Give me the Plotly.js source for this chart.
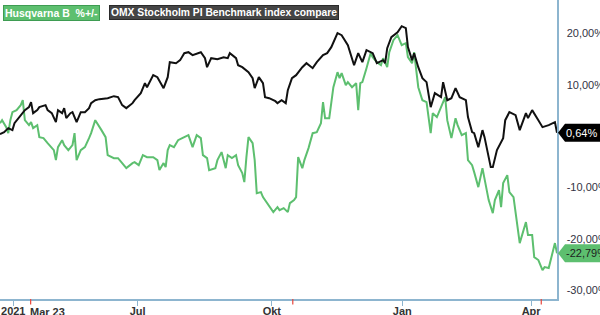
<!DOCTYPE html>
<html>
<head>
<meta charset="utf-8">
<script src="https://cdn.plot.ly/plotly-3.0.1.min.js"></script>
<style>html,body{margin:0;padding:0;background:#fff}#chart{width:600px;height:315px}</style>
</head>
<body>
<div id="chart"></div>
<script>
// Trading-day index (day 0 = first session shown) and % change
const omxDays = [0,2,4,6,7,9,11,12,14,15,16,18,19,22,23,25,27,28,30,31,32,34,35,37,39,41,43,44,46,48,52,55,57,59,61,64,65,68,70,71,74,76,79,81,82,85,87,89,91,93,97,99,100,102,105,108,110,111,114,115,117,120,122,123,125,127,128,130,133,134,136,138,139,141,143,146,148,151,153,156,158,160,163,165,168,170,171,173,175,177,180,182,185,186,187,189,192,194,196,197,199,200,202,204,206,208,210,213,214,216,218,220,222,225,226,228,229,231,233,234,237,238,240,243,244,246,249,251,254,255,257,260,262,265,268,269];
const omxPct = [0.39,0.78,1.56,1.17,2.53,3.50,4.47,5.06,5.64,6.61,4.47,5.06,5.64,6.03,5.06,4.47,2.72,5.06,4.47,5.45,3.50,4.47,4.67,2.72,4.67,4.67,5.45,6.42,7.00,7.20,7.39,7.78,7.59,6.03,5.45,6.42,7.00,8.37,10.31,9.53,11.87,11.48,9.34,11.48,14.40,14.20,14.79,16.15,16.34,15.76,16.34,15.18,13.42,15.18,14.98,15.37,15.18,16.15,15.18,13.81,13.42,12.45,11.28,9.34,11.48,10.31,7.59,7.39,6.81,6.42,7.00,6.42,8.95,11.28,11.87,13.42,14.20,13.23,14.40,15.76,16.15,17.32,20.04,19.65,17.70,15.37,13.81,16.15,14.40,16.73,16.15,14.20,14.79,14.20,17.12,19.26,20.23,21.40,21.01,17.32,14.79,16.15,13.42,11.28,10.51,5.64,8.37,7.59,10.51,7.00,7.39,9.34,7.59,7.00,3.70,0.78,0.58,-2.14,1.17,-0.19,-6.03,-6.03,-2.72,-0.39,3.11,4.67,4.09,1.17,4.47,3.50,5.06,3.11,1.75,2.14,2.72,0.64];

const husqDays = [0,1,3,4,5,6,8,10,11,12,14,15,16,18,19,21,23,26,27,28,30,31,33,35,36,37,39,41,43,44,46,47,49,51,52,55,57,59,61,64,65,67,69,71,74,76,77,79,80,81,82,84,86,88,91,93,95,97,98,100,101,104,105,107,109,110,112,114,115,117,118,119,120,122,123,124,126,127,129,130,132,134,135,137,139,140,142,143,144,146,147,149,151,153,155,156,157,159,161,163,164,165,167,168,170,172,173,174,175,177,179,180,182,184,185,187,188,190,192,194,196,197,199,200,202,204,206,208,209,211,213,215,216,218,220,221,223,225,226,228,229,231,233,234,236,238,239,241,242,243,245,246,248,251,254,255,257,258,260,262,263,265,267,268,269];
const husqPct = [2.53,3.11,1.75,0.58,3.11,4.67,5.06,6.03,7.00,3.11,2.14,2.72,1.56,2.14,-0.19,-0.39,-1.36,-2.72,-4.67,-2.14,-0.78,-1.75,-2.72,-1.75,0.58,-4.67,-2.72,-2.14,-0.39,0.58,3.11,2.53,1.17,-0.19,-3.70,-4.28,-4.28,-5.25,-6.23,-5.25,-5.06,-5.64,-3.70,-4.09,-4.09,-4.67,-6.61,-5.25,-6.03,-2.72,-1.75,-2.14,-0.78,-0.39,0.19,-2.14,0.19,-0.39,-3.70,-4.28,-6.61,-6.23,-4.67,-3.11,-6.23,-3.70,-4.28,-3.70,-5.64,-7.20,-8.95,-4.09,-0.19,-1.36,-4.67,-11.09,-10.89,-11.87,-13.04,-13.42,-14.79,-13.81,-14.40,-14.01,-14.79,-13.04,-12.45,-11.87,-4.09,-6.23,-4.67,-2.33,0.58,0.78,2.53,6.61,3.50,3.50,9.53,12.45,11.28,12.26,9.92,10.51,9.53,10.31,5.06,10.31,10.51,13.23,16.15,15.37,14.40,13.81,15.18,13.42,16.34,18.68,19.65,17.70,18.09,15.37,14.20,16.34,9.53,7.00,6.61,0.58,4.47,3.70,5.64,7.59,3.11,-0.39,3.50,2.14,0.19,0.58,-4.67,-5.64,-7.00,-9.92,-6.23,-8.56,-12.45,-14.98,-12.45,-10.51,-13.81,-9.14,-7.59,-10.89,-11.87,-20.82,-16.73,-19.26,-19.26,-23.54,-24.12,-26.07,-25.49,-25.68,-22.76,-20.82,-22.79];

const tickDays = [6.4, 66.5, 131.3, 194.3, 256.5];
const tickLabels = ['2021', 'Jul', 'Okt', 'Jan', 'Apr'];
const eventDays = [14.8, 141.4, 261.4];
const eventLabel = 'Mar 23';
const yTicks = [20, 10, 0, -10, -20, -30];
const seriesNames = ['Husqvarna B\u00a0\u00a0%+/-', 'OMX Stockholm PI Benchmark index compare'];

const GREEN = '#5dbf6f';
const BLACK = '#111111';
const AXIS = '#8db5cf';
const FONT = 'Liberation Sans, Arial, sans-serif';

const fmt = v => v.toFixed(2).replace('.', ',') + '%';

const traces = [
  {x: husqDays, y: husqPct, type: 'scatter', mode: 'lines', line: {color: GREEN, width: 2}, hoverinfo: 'skip'},
  {x: omxDays, y: omxPct, type: 'scatter', mode: 'lines', line: {color: BLACK, width: 2}, hoverinfo: 'skip'}
];

const lastOmx = omxPct[omxPct.length - 1];
const lastHusq = husqPct[husqPct.length - 1];

function tagShape(val, color) {
  return {type: 'path', xref: 'paper', yref: 'y', xsizemode: 'pixel', ysizemode: 'pixel',
    xanchor: 1, yanchor: val, path: 'M 1,0 L 8,-9 L 46,-9 L 46,9 L 8,9 Z',
    fillcolor: color, line: {width: 0}, layer: 'above'};
}
function tagText(val, color) {
  return {xref: 'paper', yref: 'y', x: 1, y: val, xanchor: 'left', yanchor: 'middle', xshift: 7,
    text: fmt(val), showarrow: false, font: {family: FONT, size: 11, color: color}};
}

const shapes = [tagShape(lastOmx, '#000000'), tagShape(lastHusq, GREEN)];
eventDays.forEach(d => shapes.push({type: 'line', xref: 'x', yref: 'paper', x0: d, x1: d, y0: 0, y1: -0.018,
  line: {color: '#e8463c', width: 1.2}, layer: 'above'}));

const annotations = [
  {xref: 'paper', yref: 'paper', x: 0, y: 1, xanchor: 'left', yanchor: 'top', xshift: 3, yshift: -5,
   text: '<b>' + seriesNames[0] + '</b>', showarrow: false, bgcolor: GREEN, bordercolor: '#3e9c52', borderwidth: 1, borderpad: 1,
   font: {family: FONT, size: 10.5, color: '#ffffff'}},
  {xref: 'paper', yref: 'paper', x: 0, y: 1, xanchor: 'left', yanchor: 'top', xshift: 109, yshift: -5,
   text: '<b>' + seriesNames[1] + '</b>', showarrow: false, bgcolor: '#454545', bordercolor: '#2a2a2a', borderwidth: 1, borderpad: 1,
   font: {family: FONT, size: 10.3, color: '#ffffff'}},
  {xref: 'x', yref: 'paper', x: eventDays[0], y: 0, xanchor: 'left', yanchor: 'top', xshift: -3, yshift: -5,
   text: '<b>' + eventLabel + '</b>', showarrow: false, font: {family: FONT, size: 11, color: '#333333'}},
  tagText(lastOmx, '#ffffff'),
  tagText(lastHusq, '#1e1e1e')
];

const layout = {
  width: 600, height: 315,
  margin: {l: 0, r: 43, t: 0, b: 16, pad: 0},
  paper_bgcolor: '#ffffff', plot_bgcolor: '#ffffff',
  showlegend: false, hovermode: false,
  separators: ',.',
  font: {family: FONT, size: 11, color: '#333333'},
  xaxis: {range: [0, 269], tickmode: 'array', tickvals: tickDays, ticktext: tickLabels.map(t => '<b>' + t + '</b>'),
    showgrid: false, zeroline: false, showline: true, linecolor: AXIS, linewidth: 2,
    ticks: 'outside', ticklen: 5, tickwidth: 1.2, tickcolor: AXIS, ticklabelstandoff: -4,
    tickfont: {family: FONT, size: 11, color: '#333333'}, fixedrange: true},
  yaxis: {range: [-31.7, 26.5], side: 'right', tickmode: 'array', tickvals: yTicks,
    ticktext: yTicks.map(v => v === 0 ? '0%' : v.toFixed(2).replace('.', ',') + '%'),
    showgrid: false, zeroline: false, showline: true, linecolor: AXIS, linewidth: 1.5,
    ticks: '', ticklabelstandoff: 6, tickfont: {family: FONT, size: 11, color: '#333344'}, fixedrange: true},
  shapes: shapes,
  annotations: annotations
};

Plotly.newPlot('chart', traces, layout, {displayModeBar: false, staticPlot: true});
</script>
</body>
</html>
